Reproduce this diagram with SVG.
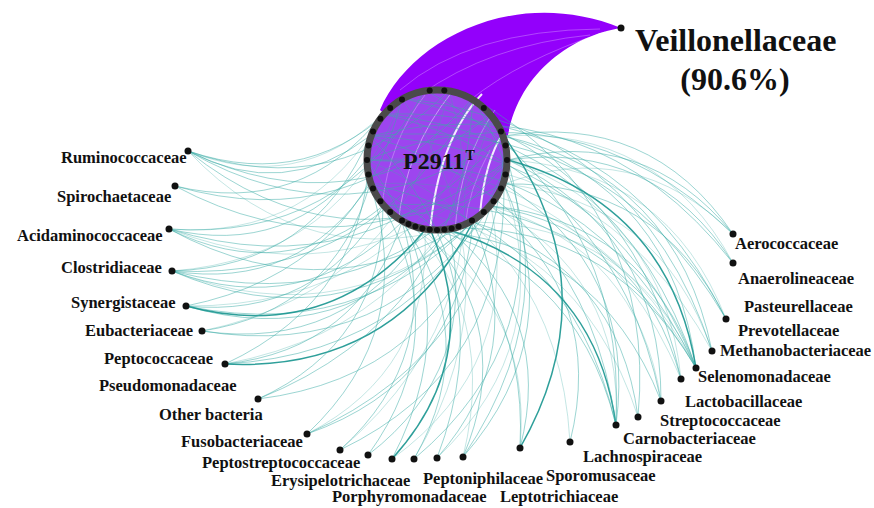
<svg xmlns="http://www.w3.org/2000/svg" width="874" height="508" viewBox="0 0 874 508">
<style>
.lbl{font-family:"Liberation Serif","Times New Roman",serif;font-weight:bold;font-size:16.5px;fill:#111}
.big{font-family:"Liberation Serif","Times New Roman",serif;font-weight:bold;font-size:32px;fill:#111}
.e{fill:none;stroke:#3aaba5;stroke-width:1;stroke-opacity:.5}
.e2{fill:none;stroke:#3aaba5;stroke-width:1;stroke-opacity:.3}
.d{fill:none;stroke:#17958f;stroke-width:1.5;stroke-opacity:.9}
.w{fill:none;stroke:#fff}
.dot{fill:#111}
.rd{fill:#111}
</style>
<rect width="874" height="508" fill="#fff"/>
<g id="connectors">
<path id="veillonellaceae-bundle" d="M380 110C410 40 515 -15 621 28C575 35 520 70 508 135L437 160Z" fill="#9300fb"/>
<g class="w" stroke-opacity=".35" stroke-width=".8">
<path d="M400 90Q470 30 600 29"/>
<path d="M420 95Q490 45 590 35"/>
<path d="M470 100Q520 60 605 32"/>
</g>
</g>
<g id="node-P2911">
<circle cx="437" cy="160" r="70" fill="#9d45ef"/>
<g class="w">
<path d="M430 232Q438 140 482 94" stroke-width="2" stroke-opacity=".9"/>
<path d="M479 228Q482 170 500 138" stroke-width="2" stroke-opacity=".9"/>
<path d="M398 225Q405 150 452 92" stroke-width="1" stroke-opacity=".45"/>
<path d="M455 230Q460 160 495 110" stroke-width="1" stroke-opacity=".4"/>
<path d="M382 205Q390 140 425 95" stroke-width=".8" stroke-opacity=".35"/>
<path d="M465 228Q468 190 490 150" stroke-width=".8" stroke-opacity=".35"/>
</g>
</g>
<g id="edges">
<path class="e" d="M370 136Q283.8 201.7 188 151"/>
<path class="e" d="M402 98Q312 193 188 151"/>
<path class="e" d="M449 90Q338 204 188 151"/>
<path class="e" d="M491 114Q351 229.5 188 151"/>
<path class="e" d="M504 136Q350.8 244.6 188 151"/>
<path class="e" d="M504 184Q335 268.6 188 151"/>
<path class="e" d="M383 114Q302 216.6 175 186"/>
<path class="e" d="M473 98Q352 237 175 186"/>
<path class="e" d="M508 160Q350 279.6 175 186"/>
<path class="e" d="M366 160Q289.5 257.5 169 229"/>
<path class="e" d="M425 90Q341.5 241.5 169 229"/>
<path class="e" d="M504 136Q366 289.7 169 229"/>
<path class="e" d="M491 206Q337.4 320.5 169 229"/>
<path class="e" d="M383 206Q283.4 286 169 229"/>
<path class="e" d="M370 184Q298.8 290.9 172 271"/>
<path class="e" d="M370 136Q314 267 172 271"/>
<path class="e" d="M473 98Q378 281 172 271"/>
<path class="e" d="M508 160Q375.5 323 172 271"/>
<path class="e" d="M473 222Q338 343 172 271"/>
<path class="e" d="M402 222Q302.7 320 172 271"/>
<path class="e" d="M383 206Q316.5 319 186 306"/>
<path class="e" d="M402 98Q360.6 271 186 306"/>
<path class="e" d="M504 184Q384 346.8 186 306"/>
<path class="e" d="M449 230Q341.8 352 186 306"/>
<path class="d" d="M425 230Q329.8 344.5 186 306"/>
<path class="e" d="M370 184Q333 311 202 331"/>
<path class="e" d="M491 206Q386.5 361 202 331"/>
<path class="e" d="M425 230Q345.8 352 202 331"/>
<path class="e" d="M402 222Q359 349.6 225 364"/>
<path class="e" d="M508 160Q431.8 352.6 225 364"/>
<path class="e" d="M370 136Q370.5 296.4 225 364"/>
<path class="d" d="M473 222Q394.4 372.4 225 364"/>
<path class="e" d="M383 206Q382.3 342.5 258 399"/>
<path class="e" d="M491 206Q436.3 377 258 399"/>
<path class="e" d="M473 98Q461.8 317.3 258 399"/>
<path class="e" d="M370 184Q418.5 329 307 434"/>
<path class="e" d="M473 222Q457.8 381 307 434"/>
<path class="e" d="M504 136Q501 348 307 434"/>
<path class="e" d="M402 222Q444 355.8 340 450"/>
<path class="e" d="M504 184Q507 369.5 340 450"/>
<path class="e" d="M383 206Q455 335 368 455"/>
<path class="e" d="M449 230Q480.5 368.5 368 455"/>
<path class="d" d="M431 231Q484.5 357.5 392 459"/>
<path class="e" d="M366 160Q474.7 301 392 459"/>
<path class="e" d="M508 160Q556.7 339.5 414 459"/>
<path class="e" d="M402 222Q483.8 336.7 414 459"/>
<path class="e" d="M473 222Q530.5 351.5 437 458"/>
<path class="e" d="M370 136Q506.5 275.6 437 458"/>
<path class="e" d="M425 230Q516.6 331.3 463 457"/>
<path class="e" d="M504 184Q571 333.5 463 457"/>
<path class="e" d="M473 98Q583 280.7 463 457"/>
<path class="e" d="M449 230Q554.3 316.3 520 448"/>
<path class="e" d="M370 184Q529.5 268 520 448"/>
<path class="d" d="M504 136Q611.8 287 520 448"/>
<path class="e" d="M491 206Q606 298.7 570 442"/>
<path class="e" d="M402 222Q574 255 616 425"/>
<path class="d" d="M449 230Q595 274 616 425"/>
<path class="e" d="M370 136Q585.5 201.8 616 425"/>
<path class="e" d="M425 90Q627.7 196.5 616 425"/>
<path class="e" d="M504 184Q637 268.7 616 425"/>
<path class="e" d="M370 184Q570 225.8 616 425"/>
<path class="e" d="M473 222Q618 266.7 638 417"/>
<path class="e" d="M473 98Q657.5 204.7 638 417"/>
<path class="e" d="M508 160Q661.5 231.5 661 401"/>
<path class="e" d="M383 114Q613.8 168.5 661 401"/>
<path class="e" d="M425 230Q597.7 240 661 401"/>
<path class="e" d="M491 206Q641.4 231.7 681 379"/>
<path class="e" d="M402 98Q631.5 149.2 681 379"/>
<path class="e" d="M366 160Q597.6 158.4 696 368"/>
<path class="e" d="M383 114Q620.8 141 696 368"/>
<path class="e" d="M370 136Q607.2 147.7 696 368"/>
<path class="e" d="M504 136Q674.2 190.6 696 368"/>
<path class="d" d="M508 160Q668.6 204 696 368"/>
<path class="e" d="M491 206Q645.3 221.4 696 368"/>
<path class="e" d="M383 206Q591.3 187 696 368"/>
<path class="e" d="M425 230Q604.5 212.3 696 368"/>
<path class="e" d="M504 136Q676.8 177 712 351"/>
<path class="e" d="M402 98Q638 125.3 712 351"/>
<path class="e" d="M383 114Q620 106.7 726 319"/>
<path class="e" d="M504 184Q658.2 180.5 726 319"/>
<path class="e" d="M370 136Q606.6 113.5 726 319"/>
<path class="e" d="M370 136Q592 83.3 733 263"/>
<path class="e" d="M508 160Q653.5 139.5 733 263"/>
<path class="e" d="M504 136Q650 111.7 733 234"/>
<path class="e" d="M366 160Q573 79.6 733 234"/>
<path class="e" d="M508 160Q644 125 733 234"/>
<path class="e2" d="M383 114Q297.3 194.9 188 151"/>
<path class="e2" d="M473 222Q307.8 277.7 188 151"/>
<path class="e2" d="M402 98Q342.4 258.1 172 271"/>
<path class="e2" d="M491 206Q352.3 340.5 172 271"/>
<path class="e2" d="M383 114Q312.8 240 169 229"/>
<path class="e2" d="M508 160Q360.5 303 169 229"/>
<path class="e2" d="M491 114Q399.9 307.6 186 306"/>
<path class="e2" d="M449 90Q402.5 289.5 202 331"/>
<path class="e2" d="M491 114Q438 324 225 364"/>
<path class="e2" d="M425 230Q431.3 369.8 307 434"/>
<path class="e2" d="M449 90Q509.5 305 340 450"/>
<path class="e2" d="M504 184Q634.5 135.7 733 234"/>
<path class="e2" d="M504 136Q659 126.2 733 263"/>
<path class="e2" d="M508 160Q667.9 169.7 726 319"/>
<path class="e2" d="M504 184Q661.4 201 712 351"/>
<path class="e2" d="M366 160Q600 144.8 712 351"/>
<path class="e2" d="M473 222Q631.2 223.6 696 368"/>
<path class="e2" d="M370 184Q591.9 171.7 696 368"/>
<path class="e2" d="M508 160Q664.5 214.1 681 379"/>
<path class="e2" d="M366 160Q593.5 168.7 681 379"/>
<path class="e2" d="M491 206Q638.4 249.1 661 401"/>
<path class="e2" d="M383 206Q578 229.9 638 417"/>
<path class="e2" d="M491 206Q623.5 275.5 616 425"/>
<path class="e2" d="M366 160Q558.2 235.7 570 442"/>
<path class="e2" d="M402 222Q533.3 297.2 520 448"/>
<path class="e2" d="M370 184Q503.9 290.7 463 457"/>
<path class="e2" d="M504 184Q558.2 342.4 437 458"/>
<path class="e2" d="M402 98Q523.5 274.7 414 459"/>
<path class="e2" d="M491 206Q522.5 364.2 392 459"/>
</g>
<g id="ring">
<circle cx="437" cy="160" r="70" fill="none" stroke="#4a4a4a" stroke-width="7"/>
<g class="rd">
<circle cx="507" cy="160" r="3"/><circle cx="505.5" cy="174.6" r="3"/><circle cx="501" cy="188.5" r="3"/><circle cx="493.6" cy="201.2" r="3"/><circle cx="483.8" cy="212" r="3"/><circle cx="472" cy="220.6" r="3"/><circle cx="458.6" cy="226.6" r="3"/><circle cx="451.6" cy="228.5" r="3"/><circle cx="444.3" cy="229.6" r="3"/><circle cx="437" cy="230" r="3"/><circle cx="429.7" cy="229.6" r="3"/><circle cx="422.4" cy="228.5" r="3"/><circle cx="415.4" cy="226.6" r="3"/><circle cx="408.5" cy="224" r="3"/><circle cx="402" cy="220.6" r="3"/><circle cx="390.2" cy="212" r="3"/><circle cx="380.4" cy="201.2" r="3"/><circle cx="373" cy="188.5" r="3"/><circle cx="368.5" cy="174.6" r="3"/><circle cx="367" cy="160" r="3"/><circle cx="368.5" cy="145.4" r="3"/><circle cx="373" cy="131.5" r="3"/><circle cx="380.4" cy="118.8" r="3"/><circle cx="390.2" cy="108" r="3"/><circle cx="402" cy="99.4" r="3"/><circle cx="429.7" cy="90.4" r="3"/><circle cx="444.3" cy="90.4" r="3"/><circle cx="483.8" cy="108" r="3"/><circle cx="501" cy="131.5" r="3"/><circle cx="505.5" cy="145.4" r="3"/>
</g>
<text x="403" y="169" font-family="Liberation Serif, Times New Roman, serif" font-weight="bold" font-size="24" fill="#111">P2911</text>
<text x="465.5" y="160" font-family="Liberation Serif, Times New Roman, serif" font-weight="bold" font-size="14" fill="#111">T</text>
</g>
<g id="node-veillonellaceae"><circle class="dot" cx="621" cy="28" r="3.5"/><text class="big" x="635" y="51">Veillonellaceae</text><text class="big" x="735" y="90" text-anchor="middle">(90.6%)</text></g>
<g id="node-ruminococcaceae"><circle class="dot" cx="188" cy="151" r="3.5"/><text class="lbl" x="61" y="163">Ruminococcaceae</text></g>
<g id="node-spirochaetaceae"><circle class="dot" cx="175" cy="186" r="3.5"/><text class="lbl" x="57" y="202">Spirochaetaceae</text></g>
<g id="node-acidaminococcaceae"><circle class="dot" cx="169" cy="229" r="3.5"/><text class="lbl" x="17" y="241">Acidaminococcaceae</text></g>
<g id="node-clostridiaceae"><circle class="dot" cx="172" cy="271" r="3.5"/><text class="lbl" x="61" y="273">Clostridiaceae</text></g>
<g id="node-synergistaceae"><circle class="dot" cx="186" cy="306" r="3.5"/><text class="lbl" x="71" y="308">Synergistaceae</text></g>
<g id="node-eubacteriaceae"><circle class="dot" cx="202" cy="331" r="3.5"/><text class="lbl" x="85" y="336">Eubacteriaceae</text></g>
<g id="node-peptococcaceae"><circle class="dot" cx="225" cy="364" r="3.5"/><text class="lbl" x="104" y="364">Peptococcaceae</text></g>
<g id="node-pseudomonadaceae"><circle class="dot" cx="258" cy="399" r="3.5"/><text class="lbl" x="99" y="391">Pseudomonadaceae</text></g>
<g id="node-other-bacteria"><circle class="dot" cx="307" cy="434" r="3.5"/><text class="lbl" x="159" y="420">Other bacteria</text></g>
<g id="node-fusobacteriaceae"><circle class="dot" cx="340" cy="450" r="3.5"/><text class="lbl" x="181" y="447">Fusobacteriaceae</text></g>
<g id="node-peptostreptococcaceae"><circle class="dot" cx="368" cy="455" r="3.5"/><text class="lbl" x="202" y="468">Peptostreptococcaceae</text></g>
<g id="node-erysipelotrichaceae"><circle class="dot" cx="392" cy="459" r="3.5"/><text class="lbl" x="271" y="486">Erysipelotrichaceae</text></g>
<g id="node-porphyromonadaceae"><circle class="dot" cx="414" cy="459" r="3.5"/><text class="lbl" x="332" y="502">Porphyromonadaceae</text></g>
<g id="node-peptoniphilaceae"><circle class="dot" cx="437" cy="458" r="3.5"/><text class="lbl" x="423" y="484">Peptoniphilaceae</text></g>
<g id="node-leptotrichiaceae"><circle class="dot" cx="463" cy="457" r="3.5"/><text class="lbl" x="500" y="502">Leptotrichiaceae</text></g>
<g id="node-sporomusaceae"><circle class="dot" cx="520" cy="448" r="3.5"/><text class="lbl" x="546" y="481">Sporomusaceae</text></g>
<g id="node-lachnospiraceae"><circle class="dot" cx="570" cy="442" r="3.5"/><text class="lbl" x="583" y="462">Lachnospiraceae</text></g>
<g id="node-carnobacteriaceae"><circle class="dot" cx="616" cy="425" r="3.5"/><text class="lbl" x="623" y="444">Carnobacteriaceae</text></g>
<g id="node-streptococcaceae"><circle class="dot" cx="638" cy="417" r="3.5"/><text class="lbl" x="660" y="426">Streptococcaceae</text></g>
<g id="node-lactobacillaceae"><circle class="dot" cx="661" cy="401" r="3.5"/><text class="lbl" x="685" y="407">Lactobacillaceae</text></g>
<g id="node-selenomonadaceae"><circle class="dot" cx="681" cy="379" r="3.5"/><text class="lbl" x="698" y="382">Selenomonadaceae</text></g>
<g id="node-methanobacteriaceae"><circle class="dot" cx="696" cy="368" r="3.5"/><text class="lbl" x="720" y="356">Methanobacteriaceae</text></g>
<g id="node-prevotellaceae"><circle class="dot" cx="712" cy="351" r="3.5"/><text class="lbl" x="738" y="336">Prevotellaceae</text></g>
<g id="node-pasteurellaceae"><circle class="dot" cx="726" cy="319" r="3.5"/><text class="lbl" x="744" y="312">Pasteurellaceae</text></g>
<g id="node-anaerolineaceae"><circle class="dot" cx="733" cy="263" r="3.5"/><text class="lbl" x="738" y="284">Anaerolineaceae</text></g>
<g id="node-aerococcaceae"><circle class="dot" cx="733" cy="234" r="3.5"/><text class="lbl" x="735" y="249">Aerococcaceae</text></g>
</svg>
